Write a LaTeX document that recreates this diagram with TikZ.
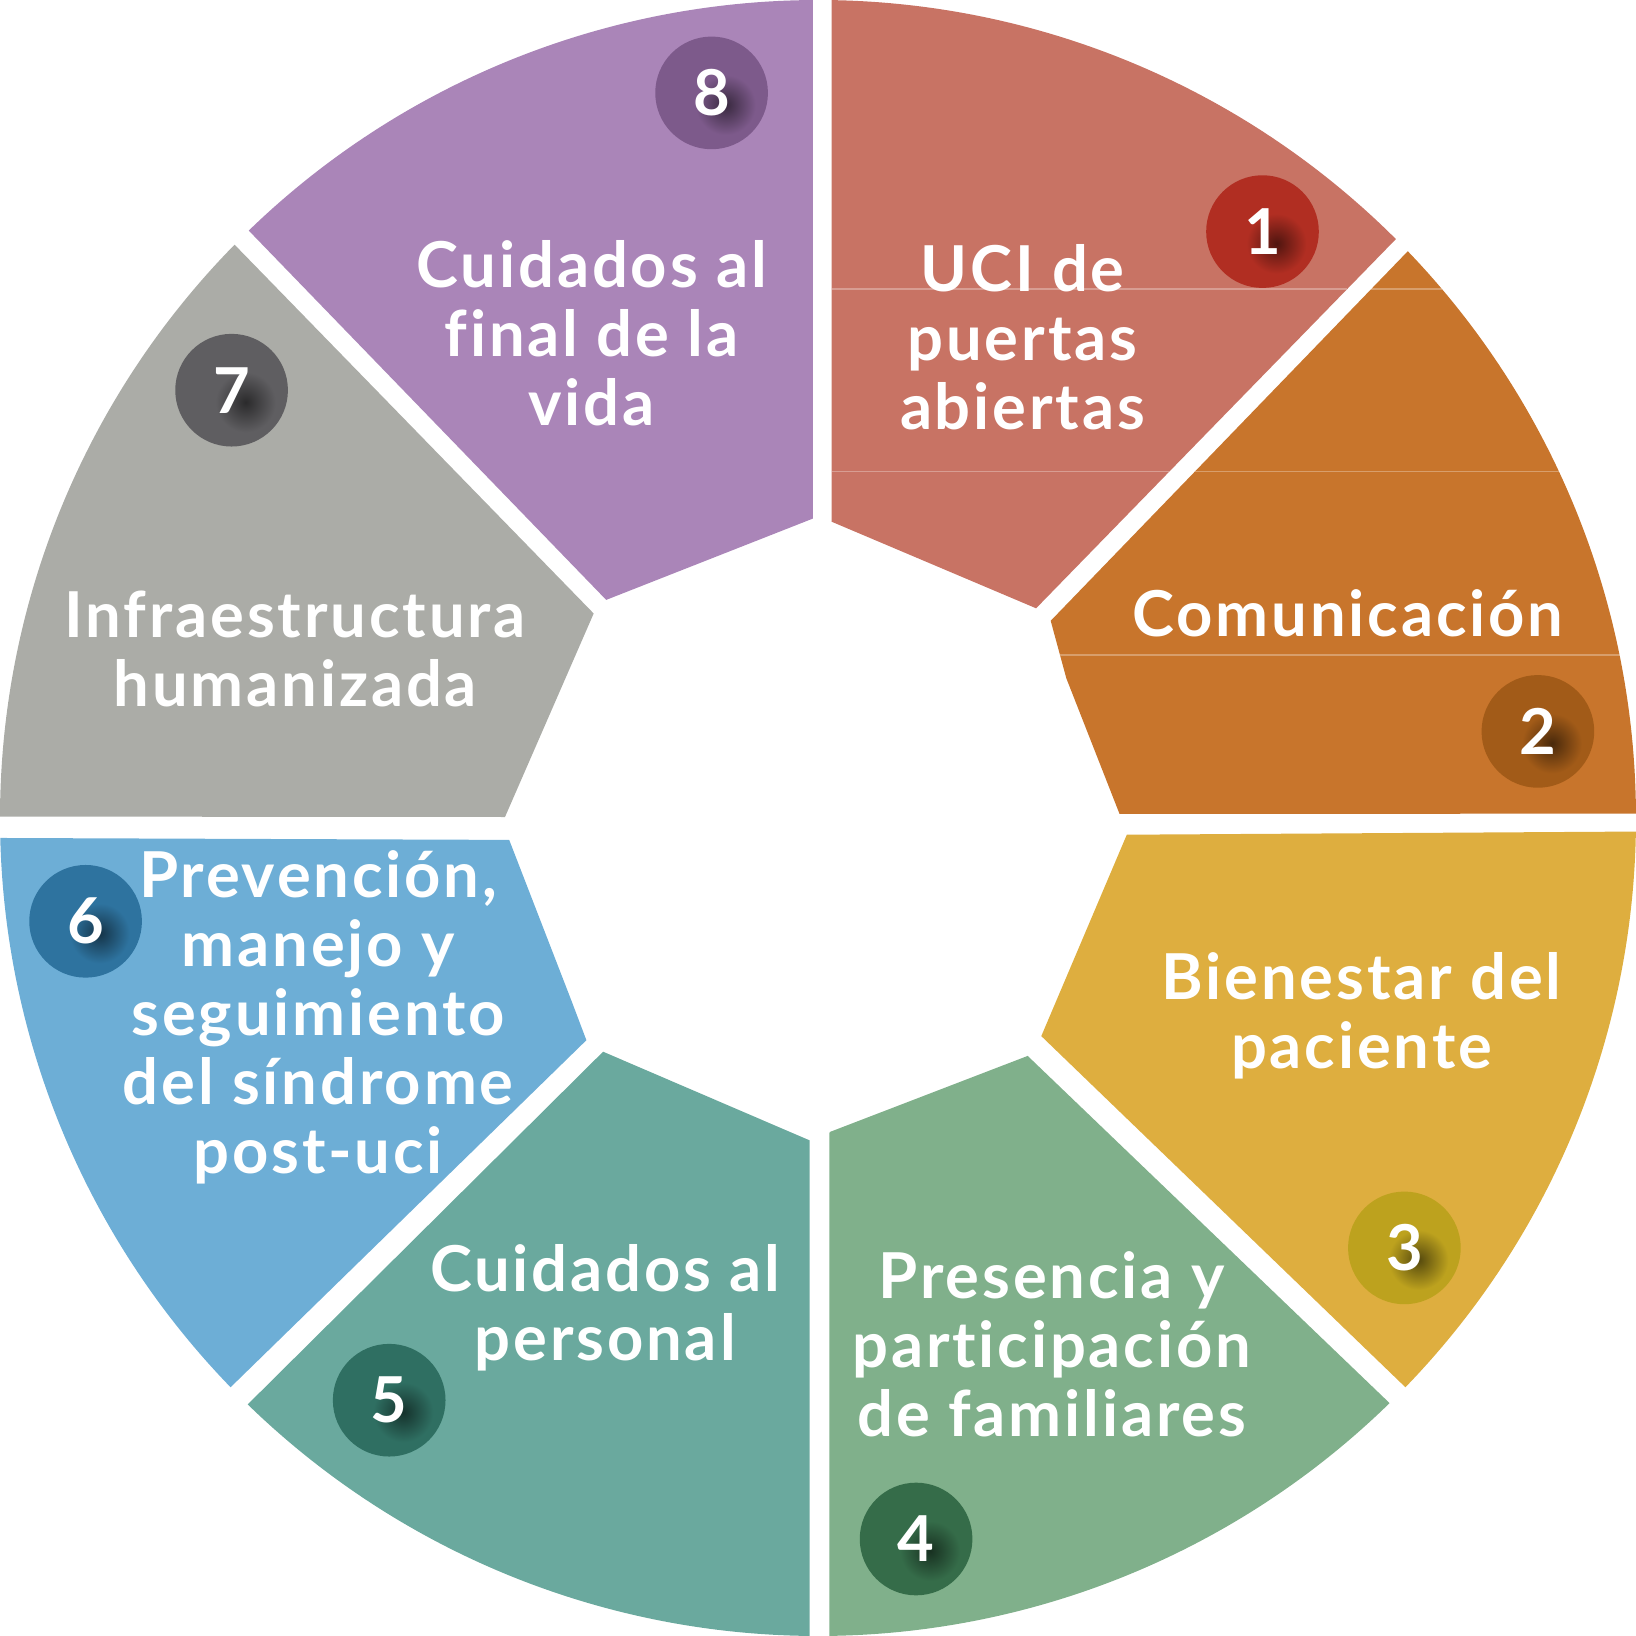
\documentclass[tikz,border=0pt]{standalone}
\usepackage{fontspec}
\setmainfont{Lato}[Ligatures=NoCommon, LetterSpace=4.5]
\usepackage{tikz}
\definecolor{SecUno}{HTML}{C87364}
\definecolor{SecDos}{HTML}{C8752C}
\definecolor{SecTres}{HTML}{DEAE3F}
\definecolor{SecCuatro}{HTML}{80B08B}
\definecolor{SecCinco}{HTML}{6AA99E}
\definecolor{SecSeis}{HTML}{6DAED6}
\definecolor{SecSiete}{HTML}{ABACA7}
\definecolor{SecOcho}{HTML}{AA85B8}
\definecolor{NumUno}{HTML}{B12E22}
\definecolor{NumDos}{HTML}{A25B18}
\definecolor{NumTres}{HTML}{BDA21E}
\definecolor{NumCuatro}{HTML}{356C49}
\definecolor{NumCinco}{HTML}{2F6F62}
\definecolor{NumSeis}{HTML}{2E739F}
\definecolor{NumSiete}{HTML}{5F5E61}
\definecolor{NumOcho}{HTML}{7D5A8B}

\begin{document}
\begin{tikzpicture}[
    x=0.01cm, y=0.01cm,
    every node/.style={font=\fontsize{18}{19.6}\selectfont\bfseries, text=white},
    label/.style={align=center, inner sep=0pt},
    badge/.style={circle, minimum size=1.126cm, inner sep=0pt},
    guide/.style={draw=white, draw opacity=0.3, line width=0.4pt}
]
\useasboundingbox (-818,-818) rectangle (818,818);

% Sectors
\fill[SecUno] (13.6,296.3) -- (89.05:818) arc[start angle=89.05, end angle=45.05, radius=818] -- (218.1,209.7) -- cycle;
\fill[SecDos] (232.7,197.2) -- (248.3,139.8) -- (301.5,4.2) -- (0.3:818) arc[start angle=0.3, end angle=43.86, radius=818] -- cycle;
\fill[SecTres] (308.8,-16.7) -- (-0.95:818) arc[start angle=-0.95, end angle=-44.1, radius=818] -- (223.3,-218.1) -- cycle;
\fill[SecCuatro] (11.5,-314.1) -- (209.7,-237.9) -- (-45.67:818) arc[start angle=-45.67, end angle=-89.2, radius=818] -- cycle;
\fill[SecCinco] (-214.9,-233.7) -- (-8.3,-322.4) -- (-90.58:818) arc[start angle=-90.58, end angle=-134.2, radius=818] -- cycle;
\fill[SecSeis] (-308.8,-21.9) -- (-246.2,-183.6) -- (-231.6,-222.2) -- (224.1:818) arc[start angle=224.1, end angle=181.4, radius=818] -- cycle;
\fill[SecSiete] (-313,1) -- (-224.3,204.5) -- (135.5:818) arc[start angle=135.5, end angle=179.9, radius=818] -- cycle;
\fill[SecOcho] (-211.8,218.1) -- (-5.2,299.4) -- (90.36:818) arc[start angle=90.36, end angle=134.1, radius=818] -- cycle;

% Guide lines
\draw[guide] (13.6,529) -- (529.3,529);
\draw[guide] (13.6,346.4) -- (351.3,346.4);
\draw[guide] (553.3,529) -- (623.9,529);
\draw[guide] (376.8,346.4) -- (741,346.4);
\draw[guide] (242,162.8) -- (801.6,162.8);

% Labels
\node[label] (t1) at (204.5,481) {UCI de\\puertas\\abiertas};
\node[label] (t2) at (530,204.5) {Comunicación};
\node[label] (t3) at (543.6,-198) {Bienestar del\\paciente};
\node[label] (t4) at (233.7,-525.9) {Presencia y\\participación\\de familiares};
\node[label] (t5) at (-212.8,-490.2) {Cuidados al\\personal};
\node[label] (t6) at (-499.8,-199) {Prevención,\\manejo y\\seguimiento\\del síndrome\\post-uci};
\node[label] (t7) at (-522.7,169) {Infraestructura\\humanizada};
\node[label] (t8) at (-226.4,485.1) {Cuidados al\\final de la\\vida};

% Badges
\foreach \pos/\col/\num in {{(444.5,586.4)}/NumUno/1, {(719.9,86.6)}/NumDos/2,
    {(586.4,-429.9)}/NumTres/3, {(98.1,-721)}/NumCuatro/4,
    {(-428.8,-582.2)}/NumCinco/5, {(-732.4,-103.3)}/NumSeis/6,
    {(-586.4,427.8)}/NumSiete/7, {(-106.4,725.1)}/NumOcho/8} {
  \node[badge, fill=\col] (b\num) at \pos {};
  \shade[inner color=\col!45!black, outer color=\col] ([shift={(14,-12)}]b\num.center) circle (30);
  \node (n\num) at (b\num.center) {\num};
}

\end{tikzpicture}
\end{document}
